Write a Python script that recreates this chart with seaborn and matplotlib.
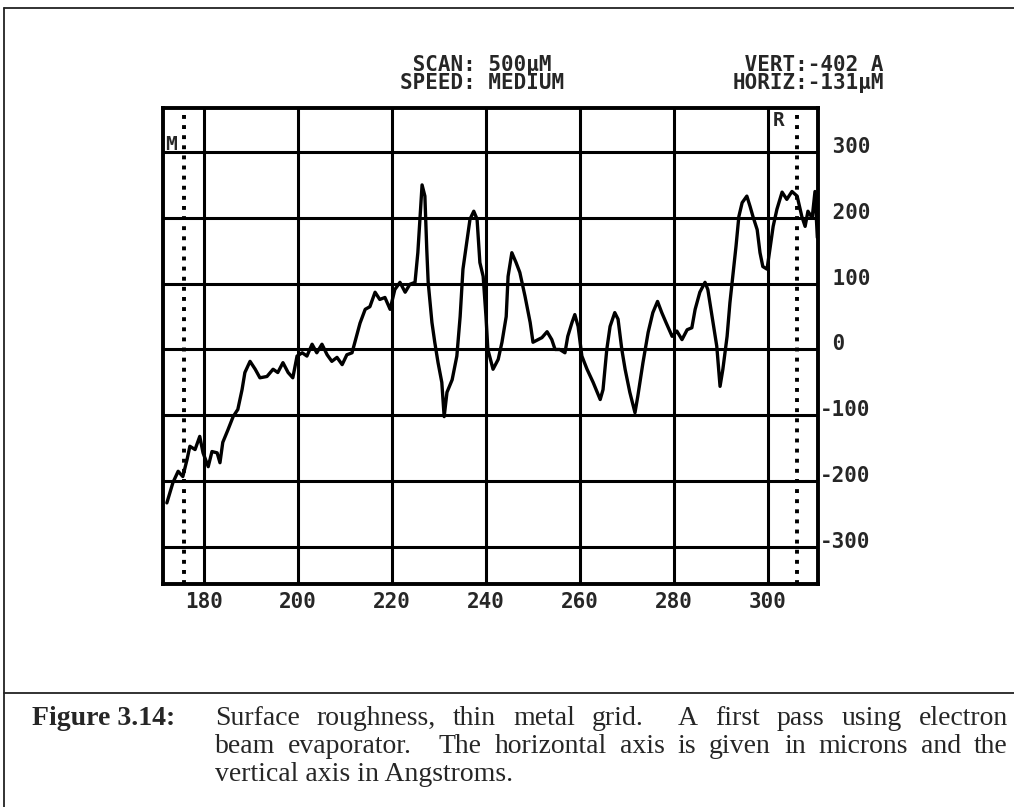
import numpy as np
import pandas as pd
import matplotlib
matplotlib.use("Agg")
import matplotlib.pyplot as plt
import seaborn as sns
from matplotlib.lines import Line2D
from matplotlib.transforms import ScaledTranslation

# ---- profilometer trace: position (microns) vs height (Angstroms) ----
scan_um = [
    172.1, 173.4, 174.5, 175.5, 176.4, 177.0, 178.1, 179.1, 179.8, 180.9,
    181.7, 182.8, 183.4, 184.0, 185.1, 186.2, 187.2, 188.1, 188.7, 189.8,
    190.9, 191.9, 193.4, 194.7, 195.7, 196.8, 197.9, 198.9, 199.8, 200.9,
    201.9, 203.0, 204.0, 205.1, 206.2, 207.2, 208.3, 209.4, 210.4, 211.5,
    212.1, 213.2, 214.3, 215.3, 216.4, 217.4, 218.5, 219.6, 220.6, 221.7,
    222.8, 223.8, 224.9, 225.5, 226.4, 227.0, 227.4, 227.7, 228.5, 229.1,
    229.8, 230.6, 231.1, 231.7, 232.8, 233.8, 234.5, 235.1, 236.0, 236.6,
    237.4, 238.1, 238.7, 239.4, 240.0, 240.4, 241.5, 242.6, 243.4, 244.3,
    244.7, 245.5, 246.4, 247.2, 248.3, 249.4, 250.0, 251.1, 251.9, 253.0,
    254.0, 254.7, 255.7, 256.8, 257.4, 258.3, 258.9, 259.6, 260.4, 261.5,
    262.8, 264.3, 264.9, 265.7, 266.4, 267.4, 268.1, 268.9, 269.6, 270.6,
    271.7, 272.3, 273.4, 274.5, 275.5, 276.5, 277.4, 278.3, 279.6, 280.6,
    281.7, 282.8, 283.8, 284.5, 285.5, 286.6, 287.2, 288.1, 289.1, 289.8,
    290.4, 291.3, 291.9, 292.6, 293.2, 293.8, 294.5, 295.5, 296.2, 296.8,
    297.7, 298.3, 298.9, 299.8, 300.4, 301.1, 301.9, 303.0, 304.0, 305.1,
    306.2, 307.2, 307.9, 308.5, 309.4, 310.0, 310.5,
]
height_A = [
    -233, -202, -185, -193, -167, -147, -152, -132, -157, -178,
    -155, -157, -172, -141, -122, -102, -91, -61, -35, -18,
    -30, -43, -41, -30, -35, -20, -35, -43, -10, -5,
    -10, 8, -5, 8, -8, -18, -12, -23, -8, -5,
    11, 40, 61, 65, 87, 76, 79, 61, 91, 102,
    87, 99, 102, 147, 250, 233, 152, 102, 41, 11,
    -20, -50, -102, -65, -46, -10, 50, 122, 167, 198,
    210, 198, 132, 111, 50, 0, -30, -15, 11, 50,
    111, 147, 132, 117, 81, 41, 11, 15, 18, 27,
    15, 0, 0, -5, 20, 41, 53, 35, -10, -30,
    -50, -76, -61, 0, 35, 56, 46, 0, -30, -65,
    -96, -71, -20, 26, 56, 73, 56, 41, 20, 28,
    15, 30, 33, 61, 87, 102, 91, 50, 5, -56,
    -30, 20, 71, 117, 157, 202, 223, 233, 217, 202,
    182, 147, 126, 122, 152, 187, 213, 239, 228, 240,
    233, 202, 187, 210, 200, 240, 170,
]

x_ticks = [180, 200, 220, 240, 260, 280, 300]
y_ticks = [-300, -200, -100, 0, 100, 200, 300]
y_tick_labels = ["-300", "-200", "-100", " 0", " 100", " 200", " 300"]

cursor_m = 175.7
cursor_r = 306.2

header_left = [" SCAN: 500µM", "SPEED: MEDIUM"]
header_right = [" VERT:-402 A", "HORIZ:-131µM"]

caption_label = "Figure 3.14:"
caption_lines = [
    "Surface roughness, thin metal grid.  A first pass using electron",
    "beam evaporator.  The horizontal axis is given in microns and the",
    "vertical axis in Angstroms.",
]

# ---- figure ----
sns.set_style("white")
W, H = 1014, 807
fig = plt.figure(figsize=(W / 100, H / 100), dpi=100)
fig.patch.set_facecolor("white")


def fx(px):
    return px / W


def fy(py):
    return 1 - py / H


ax = fig.add_axes([fx(163), fy(584), (818 - 163) / W, (584 - 108) / H])

mono = {"family": "DejaVu Sans Mono", "weight": "bold"}

df = pd.DataFrame({"scan": scan_um, "height": height_A})

# grid drawn as heavy black lines
for xv in x_ticks:
    ax.axvline(xv, color="black", lw=2.2, zorder=1)
for yv in y_ticks:
    ax.axhline(yv, color="black", lw=2.2, zorder=1)

# cursor markers
for cx in (cursor_m, cursor_r):
    ax.axvline(cx, color="black", lw=2.8, linestyle=(0, (1, 1.6)),
               dash_capstyle="butt", zorder=2)

sns.lineplot(data=df, x="scan", y="height", ax=ax, color="black",
             lw=2.4, sort=False, estimator=None, zorder=3)

ax.set_xlim(171.28, 310.64)
ax.set_ylim(-356.2, 366.8)
ax.set_xlabel("")
ax.set_ylabel("")

ax.set_xticks(x_ticks)
ax.set_xticklabels([str(v) for v in x_ticks], fontdict=mono, fontsize=15)
ax.yaxis.tick_right()
ax.set_yticks(y_ticks)
ax.set_yticklabels(y_tick_labels, fontdict=mono, fontsize=15)
ax.tick_params(axis="x", length=0, pad=6)
ax.tick_params(axis="y", length=0, pad=1.5)
shift = ScaledTranslation(0, 7 / 100, fig.dpi_scale_trans)
for lab in ax.get_yticklabels():
    lab.set_transform(lab.get_transform() + shift)
    lab.set_horizontalalignment("left")

for sp in ax.spines.values():
    sp.set_visible(True)
    sp.set_color("black")
    sp.set_linewidth(2.8)

# cursor labels
fig.text(fx(165), fy(145), "M", fontdict=mono, fontsize=14,
         ha="left", va="center")
fig.text(fx(773), fy(121), "R", fontdict=mono, fontsize=14,
         ha="left", va="center")

# instrument header
fig.text(fx(400), fy(74), "\n".join(header_left), fontdict=mono,
         fontsize=15, ha="left", va="center", multialignment="left",
         linespacing=0.82)
fig.text(fx(884), fy(74), "\n".join(header_right), fontdict=mono,
         fontsize=15, ha="right", va="center", multialignment="right",
         linespacing=0.82)

# page frame
frame_kw = dict(color="#222222", lw=1.3, transform=fig.transFigure)
fig.add_artist(Line2D([fx(4), fx(4)], [fy(8), fy(807)], **frame_kw))
fig.add_artist(Line2D([fx(4), fx(1014)], [fy(8), fy(8)], **frame_kw))
fig.add_artist(Line2D([fx(4), fx(1014)], [fy(693), fy(693)], **frame_kw))

# caption
serif = {"family": "Liberation Serif"}
cap_size = 20
fig.text(fx(32), fy(725), caption_label, fontdict=serif, fontsize=cap_size,
         fontweight="bold", ha="left", va="baseline")

renderer = fig.canvas.get_renderer()
x_start, x_end = 215, 1008
for li, line in enumerate(caption_lines):
    y = fy(725 + 28 * li)
    if li == len(caption_lines) - 1:
        fig.text(fx(x_start), y, line, fontdict=serif, fontsize=cap_size,
                 ha="left", va="baseline")
        continue
    parts = line.split(" ")
    words, weights = [], []
    run = 1
    for p in parts:
        if p == "":
            run += 1
            continue
        if words:
            weights.append(run)
        words.append(p)
        run = 1
    objs = [fig.text(0, y, w, fontdict=serif, fontsize=cap_size, ha="left",
                     va="baseline") for w in words]
    widths = [o.get_window_extent(renderer).width for o in objs]
    unit = (x_end - x_start - sum(widths)) / sum(weights)
    xpos = x_start
    for k, o in enumerate(objs):
        o.set_x(fx(xpos))
        xpos += widths[k]
        if k < len(weights):
            xpos += unit * weights[k]

fig.savefig("out.png", dpi=100, facecolor="white")
